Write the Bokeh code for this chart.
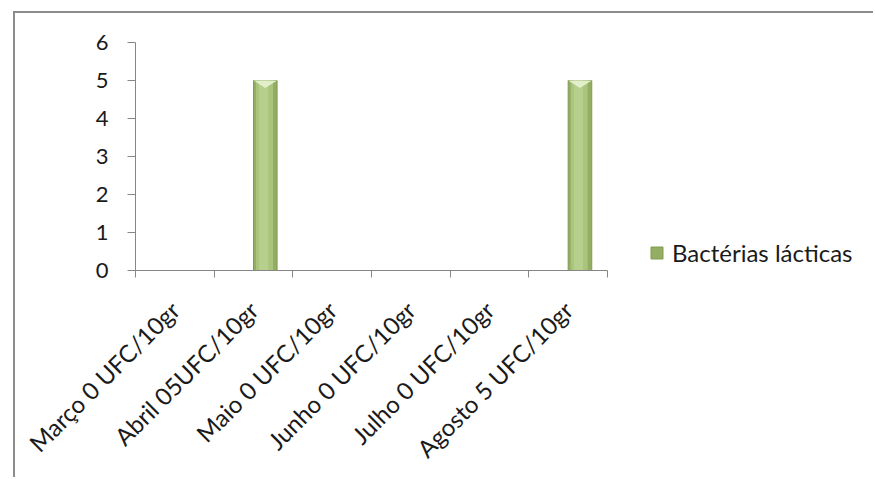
import math
import numpy as np
from bokeh.plotting import figure
from bokeh.models import FixedTicker, Legend, LegendItem, ColumnDataSource, Range1d
from bokeh.transform import dodge
from bokeh.embed import file_html
from bokeh.resources import INLINE

# Monthly counts of lactic bacteria
months = [
    "Março 0 UFC/10gr",
    "Abril 05UFC/10gr",
    "Maio 0 UFC/10gr",
    "Junho 0 UFC/10gr",
    "Julho 0 UFC/10gr",
    "Agosto 5 UFC/10gr",
]
lacticas = [0, 5, 0, 0, 0, 5]
y_ticks = [0, 1, 2, 3, 4, 5, 6]
series_name = "Bactérias lácticas"

FONT = "Lato"
AXIS_GREY = "#868686"
TEXT = "#1a1a1a"

n = len(months)
centers = np.arange(n) + 0.5
bar_w = 0.30
shift = 0.15  # bar sits in the second slot of the cluster

# the plotting frame runs on under the legend; the axis stops after the last month
CAT_PX = 472          # width taken by the six months
FRAME_PX = 735        # frame width including the legend area
x_end = n * FRAME_PX / CAT_PX

src = ColumnDataSource(dict(
    x=centers,
    top=lacticas,
))

p = figure(
    width=860, height=466,
    x_range=Range1d(0, x_end), y_range=Range1d(0, 6),
    output_backend="svg", toolbar_location=None,
    min_border_left=120, min_border_right=5,
    min_border_top=29, min_border_bottom=209,
)
p.styles = {
    "border-top": "2px solid #8c8c8c",
    "border-left": "2px solid #8c8c8c",
    "margin-top": "11px",
    "margin-left": "13px",
}
p.outline_line_color = None
p.grid.visible = False
p.background_fill_color = "white"
p.border_fill_color = "white"

# bars: dark rim, shaded body and lighter core
xd = dodge("x", shift, range=p.x_range)
base = p.vbar(x=xd, top="top", width=bar_w, source=src,
              fill_color="#93ad62", line_color="#829c55", line_width=1)
p.vbar(x=dodge("x", shift - 0.01, range=p.x_range), top="top", width=bar_w * 0.72,
       source=src, fill_color="#a9c47b", line_color=None)
p.vbar(x=dodge("x", shift - 0.02, range=p.x_range), top="top", width=bar_w * 0.40,
       source=src, fill_color="#b6cf8c", line_color=None)

# top bevel: light wedge pointing down from the bar's upper edge
bev_xs, bev_ys = [], []
for c, v in zip(centers, lacticas):
    if v > 0:
        l, r = c + shift - bar_w / 2, c + shift + bar_w / 2
        bev_xs.append([l, r, c + shift])
        bev_ys.append([v, v, v - 0.2])
p.patches(bev_xs, bev_ys, fill_color="#e3efca", line_color=None)

# x axis: labels at category centres, tick marks at category boundaries
xa = p.xaxis[0]
xa.bounds = (0, n)
xa.ticker = FixedTicker(ticks=list(centers), minor_ticks=list(range(n + 1)))
xa.major_label_overrides = {float(c): m for c, m in zip(centers, months)}
xa.major_label_orientation = math.pi / 4
xa.major_tick_out = 0
xa.major_tick_in = 0
xa.minor_tick_out = 7
xa.minor_tick_in = 0
xa.minor_tick_line_color = AXIS_GREY
xa.axis_line_color = AXIS_GREY
xa.major_label_text_font = FONT
xa.major_label_text_font_size = "24px"
xa.major_label_text_color = TEXT
xa.major_label_standoff = 28

ya = p.yaxis[0]
ya.ticker = FixedTicker(ticks=y_ticks, minor_ticks=[])
ya.major_tick_out = 8
ya.major_tick_in = 0
ya.major_tick_line_color = AXIS_GREY
ya.axis_line_color = AXIS_GREY
ya.major_label_text_font = FONT
ya.major_label_text_font_size = "22px"
ya.major_label_text_color = TEXT
ya.major_label_standoff = 19

legend = Legend(
    items=[LegendItem(label=series_name, renderers=[base])],
    location=(514, 3),
    label_text_font=FONT, label_text_font_size="24px", label_text_color=TEXT,
    glyph_width=15, glyph_height=15, label_standoff=8,
    padding=0, margin=0, border_line_color=None, background_fill_alpha=0,
)
p.add_layout(legend, "center")

open("out.html", "w").write(file_html(p, INLINE))
